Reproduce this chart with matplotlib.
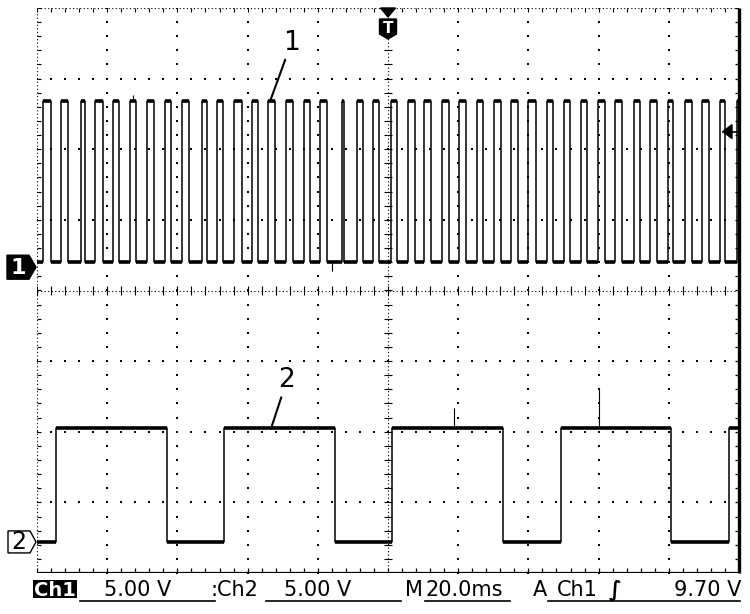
import numpy as np
import matplotlib
matplotlib.use('Agg')
import matplotlib.pyplot as plt
from matplotlib import font_manager
from matplotlib.patches import Polygon, Rectangle
from matplotlib.lines import Line2D

W, H = 750, 614

# screen: 10 div x 20 ms, 8 div vertical; time in ms from left edge, level in div from centre
CH1_EDGES = [1.8, 4.0, 6.8, 8.8, 12.5, 13.7, 16.6, 18.7, 21.7, 23.3,
             26.6, 28.2, 31.3, 33.4, 36.6, 38.2, 41.2, 43.2, 47.0, 48.4,
             51.4, 53.1, 56.1, 58.3, 61.2, 63.1, 65.9, 67.8, 70.9, 72.9,
             76.2, 77.8, 80.6, 82.5, 87.0, 87.6, 91.1, 92.8, 95.8, 97.4,
             100.9, 102.5, 105.8, 107.7, 110.3, 112.2, 115.3, 117.5, 120.2, 122.2,
             125.3, 127.2, 130.3, 132.2, 135.0, 137.0, 140.0, 142.1, 145.2, 147.1,
             150.1, 151.9, 154.9, 156.6, 159.9, 161.8, 164.7, 166.6, 170.1, 171.8,
             174.6, 176.5, 179.9, 181.3, 184.6, 186.5, 189.5, 191.5, 194.7, 196.1,
             199.3]
CH1_LOW, CH1_HIGH = 0.40, 2.68
CH1_GND = 0.33
CH1_SPIKE_T = [84.0, 27.3]
CH1_SPIKE_END = [0.27, 2.77]

CH2_EDGES = [5.4, 37.0, 53.3, 84.9, 101.2, 132.9, 149.2, 180.6, 197.2]
CH2_LOW, CH2_HIGH = -3.56, -1.95
CH2_GND = -3.56
CH2_SPIKE_T = [118.9, 160.2]
CH2_SPIKE_END = [-1.66, -1.40]

TRIG_T = 100.0
TRIG_LEVEL = 2.25

STATUS_CH1 = 'Ch1'
STATUS_CH1_SCALE = '5.00 V'
STATUS_CH2 = ':Ch2'
STATUS_CH2_SCALE = '5.00 V'
STATUS_TIME = '20.0ms'
STATUS_TRIG_SRC = 'Ch1'
STATUS_TRIG_LEVEL = '9.70 V'

# screen placement in pixels
X0, X1, Y0, Y1 = 37, 739, 8, 573

names = {f.name for f in font_manager.fontManager.ttflist}
narrow = 'Liberation Sans Narrow' if 'Liberation Sans Narrow' in names else 'DejaVu Sans'


def fx(x):
    return x / W


def fy(y):
    return 1 - y / H


def py(v):
    # division level -> pixel row
    return Y0 + (4 - v) * (Y1 - Y0) / 8


def step_trace(edges, low, high):
    t = np.concatenate([[0.0], edges, [200.0]])
    lv = np.array([low if i % 2 == 0 else high for i in range(len(edges) + 1)])
    return t, lv


fig = plt.figure(figsize=(W / 100, H / 100), dpi=100)
ax = fig.add_axes([fx(X0), fy(Y1), (X1 - X0) / W, (Y1 - Y0) / H])
ax.set_xlim(0, 200)
ax.set_ylim(-4, 4)
ax.axis('off')

# graticule
dot_y = np.arange(-4, 4.001, 0.2)
dot_x = np.arange(0, 200.001, 4)
for gx in np.arange(20, 200, 20):
    if gx == 100:
        continue
    ax.scatter(np.full_like(dot_y, gx), dot_y, s=1.3, marker='s', color='k', linewidths=0)
for gy in np.arange(-3, 4, 1):
    if gy == 0:
        continue
    ax.scatter(dot_x, np.full_like(dot_x, gy), s=1.3, marker='s', color='k', linewidths=0)

dense = (0, (1, 2.2))
ax.axvline(100, color='k', lw=0.8, ls=dense)
ax.axhline(0, color='k', lw=0.8, ls=dense)
ax.vlines(dot_x, -0.06, 0.06, color='k', lw=0.8)
ax.hlines(dot_y, 98.8, 101.2, color='k', lw=0.8)

# border
ax.axhline(4, color='k', lw=0.8, ls=dense)
ax.axvline(0, color='k', lw=0.8, ls=dense)
ax.vlines(dot_x, 3.94, 4, color='k', lw=0.8)
ax.hlines(dot_y, 0, 1.0, color='k', lw=0.8)
ax.plot([0, 200], [-4, -4], color='k', lw=1.6, solid_capstyle='butt')
ax.vlines(dot_x, -4, -3.93, color='k', lw=0.9)
ax.hlines(dot_y, 198.9, 200, color='k', lw=0.9)
ax.plot([200, 200], [-4, 4], color='k', lw=2.4, solid_capstyle='butt', clip_on=False)

# traces
for edges, lo, hi in [(CH1_EDGES, CH1_LOW, CH1_HIGH), (CH2_EDGES, CH2_LOW, CH2_HIGH)]:
    t, lv = step_trace(edges, lo, hi)
    ax.plot(t, np.append(lv, lv[-1]), drawstyle='steps-post', color='k', lw=1.1)
    ax.hlines(lv, t[:-1], t[1:], color='k', lw=2.6)

ax.vlines(CH1_SPIKE_T, [CH1_LOW, CH1_HIGH], CH1_SPIKE_END, color='k', lw=0.8)
ax.vlines(CH2_SPIKE_T, CH2_HIGH, CH2_SPIKE_END, color='k', lw=0.8)

# trace labels
ax.annotate('1', xy=(66.4, CH1_HIGH), xytext=(72.5, 3.51), ha='center', va='center',
            fontsize=19, arrowprops=dict(arrowstyle='-', lw=1.5, shrinkA=1, shrinkB=0))
ax.annotate('2', xy=(66.7, CH2_HIGH), xytext=(71.2, -1.27), ha='center', va='center',
            fontsize=19, arrowprops=dict(arrowstyle='-', lw=1.5, shrinkA=1, shrinkB=0))

# channel ground markers
y1 = py(CH1_GND)
fig.add_artist(Polygon([(fx(7), fy(y1 - 12)), (fx(29), fy(y1 - 12)), (fx(36), fy(y1)),
                        (fx(29), fy(y1 + 12)), (fx(7), fy(y1 + 12))],
                       closed=True, facecolor='k', edgecolor='k', transform=fig.transFigure))
fig.text(fx(18), fy(y1 + 0.5), '1', color='w', fontsize=16, fontweight='bold',
         ha='center', va='center')

y2 = py(CH2_GND)
fig.add_artist(Polygon([(fx(8), fy(y2 - 11)), (fx(30), fy(y2 - 11)), (fx(36), fy(y2)),
                        (fx(30), fy(y2 + 11)), (fx(8), fy(y2 + 11))],
                       closed=True, facecolor='w', edgecolor='k', lw=1.0, transform=fig.transFigure))
fig.text(fx(19), fy(y2 + 0.5), '2', color='k', fontsize=17, ha='center', va='center')

# trigger position marker
tx = X0 + TRIG_T / 200 * (X1 - X0)
fig.add_artist(Polygon([(fx(tx - 7.5), fy(8)), (fx(tx + 7.5), fy(8)), (fx(tx), fy(17))],
                       closed=True, facecolor='k', edgecolor='k', transform=fig.transFigure))
fig.add_artist(Polygon([(fx(tx - 8.5), fy(19)), (fx(tx + 8.5), fy(19)), (fx(tx + 8.5), fy(34)),
                        (fx(tx), fy(39)), (fx(tx - 8.5), fy(34))],
                       closed=True, facecolor='k', edgecolor='k', transform=fig.transFigure))
fig.text(fx(tx), fy(28.5), 'T', color='w', fontsize=11, fontweight='bold',
         ha='center', va='center')

# trigger level marker
yt = py(TRIG_LEVEL)
fig.add_artist(Polygon([(fx(723), fy(yt)), (fx(732), fy(yt - 7)), (fx(732), fy(yt + 7))],
                       closed=True, facecolor='k', edgecolor='k', transform=fig.transFigure))
fig.add_artist(Line2D([fx(723), fx(739)], [fy(yt), fy(yt)], color='k', lw=1.2,
                      transform=fig.transFigure))

# status line
base = fy(596)
st = dict(fontsize=15, family=narrow, va='baseline', ha='left')
fig.add_artist(Rectangle((fx(33), fy(598)), (77 - 33) / W, 18 / H, facecolor='k',
                         edgecolor='none', transform=fig.transFigure))
fig.text(fx(55), base, STATUS_CH1, color='w', fontweight='bold', fontsize=14,
         family=narrow, va='baseline', ha='center')
fig.text(fx(104), base, STATUS_CH1_SCALE, **st)
fig.text(fx(210), base, STATUS_CH2, **st)
fig.text(fx(284), base, STATUS_CH2_SCALE, **st)
fig.text(fx(405), base, 'M', **st)
fig.text(fx(426), base, STATUS_TIME, **st)
fig.text(fx(533), base, 'A', **st)
fig.text(fx(557), base, STATUS_TRIG_SRC, **st)
fig.text(fx(609), base, '\u222b', fontsize=15, fontweight='bold', va='baseline', ha='left')
fig.text(fx(741), base, STATUS_TRIG_LEVEL, fontsize=15, family=narrow, va='baseline', ha='right')
for a, b in [(80, 215), (266, 401), (425, 510), (548, 740)]:
    fig.add_artist(Line2D([fx(a), fx(b)], [fy(601), fy(601)], color='k', lw=1.2,
                          transform=fig.transFigure))

fig.savefig('out.png', dpi=100, facecolor='w')
